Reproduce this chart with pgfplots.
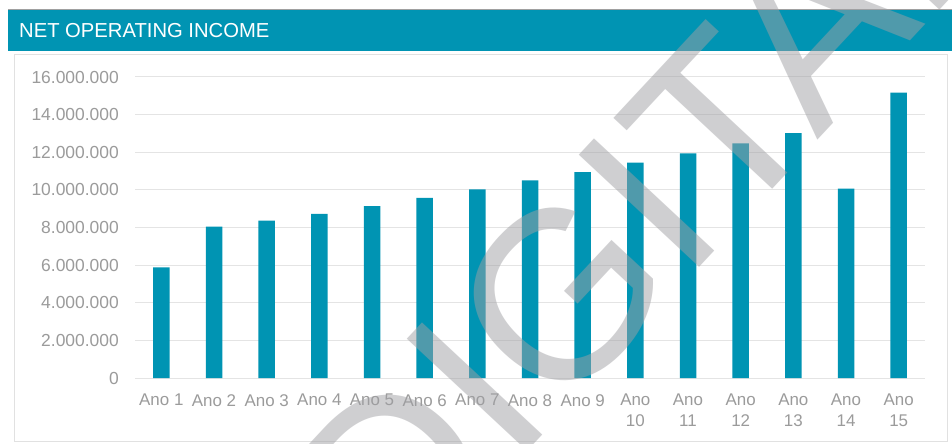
\documentclass[border=0pt]{standalone}
\usepackage{pgfplots}
\pgfplotsset{compat=1.18}
\usepackage{graphicx}
\usepackage{fontspec}
\setmainfont{Liberation Sans}
\definecolor{teal1}{RGB}{0,148,179}
\definecolor{ticklab}{RGB}{155,155,155}
\definecolor{gridc}{RGB}{228,228,228}
\definecolor{wm}{RGB}{160,160,164}
\begin{document}
\begin{tikzpicture}
\path[use as bounding box] (0bp,0bp) rectangle (952bp,444bp);
\fill[white] (0bp,0bp) rectangle (952bp,444bp);
% header
\fill[teal1] (8bp,393bp) rectangle (952bp,434bp);
\draw[color={rgb,255:red,160;green,160;blue,160}, line width=1bp] (8bp,434bp) -- (952bp,434bp);
\node[anchor=west, inner sep=0pt, text=white, font=\fontsize{20.3}{23}\selectfont] at (19bp,413bp) {NET OPERATING INCOME};
% panel
\draw[color={rgb,255:red,225;green,225;blue,225}, line width=1bp, fill=white] (14bp,2bp) rectangle (947bp,389bp);
\begin{axis}[
  at={(135bp,66bp)}, anchor=south west,
  width=790bp, height=301bp, scale only axis,
  ybar, bar width=16.5bp,
  xmin=-0.5, xmax=14.5, ymin=0, ymax=16000000,
  xtick={0,...,14},
  xticklabels={Ano 1,Ano 2,Ano 3,Ano 4,Ano 5,Ano 6,Ano 7,Ano 8,Ano 9,Ano\\10,Ano\\11,Ano\\12,Ano\\13,Ano\\14,Ano\\15},
  ytick={0,2000000,...,16000000},
  scaled y ticks=false,
  /pgf/number format/.cd, fixed, precision=0, 1000 sep={.}, assume math mode=true,
  /pgfplots/.cd,
  axis line style={draw=none},
  major tick length=0pt,
  ymajorgrids, grid style={draw=gridc, line width=1bp},
  xticklabel style={font=\fontsize{17}{21}\selectfont, text=ticklab, align=center, inner sep=0pt, anchor=north, yshift=-16bp},
  yticklabel style={font=\fontsize{17.5}{21}\selectfont, text=ticklab, inner sep=0pt, anchor=east, xshift=-16bp},
  clip=false,
]
\addplot[fill=teal1, draw=none] coordinates {
(0,5880000) (1,8040000) (2,8360000) (3,8720000) (4,9140000)
(5,9570000) (6,10030000) (7,10510000) (8,10950000) (9,11450000)
(10,11940000) (11,12470000) (12,13020000) (13,10060000) (14,15170000)
};
\end{axis}
% watermark
\begin{scope}
\clip (0bp,0bp) rectangle (952bp,444bp);
\node[rotate=47, anchor=base west, inner sep=0pt, text=wm, opacity=0.5, font=\fontsize{240}{240}\selectfont] at (394.7bp,-150.3bp) {DIGITAL};
\end{scope}
\end{tikzpicture}
\end{document}
